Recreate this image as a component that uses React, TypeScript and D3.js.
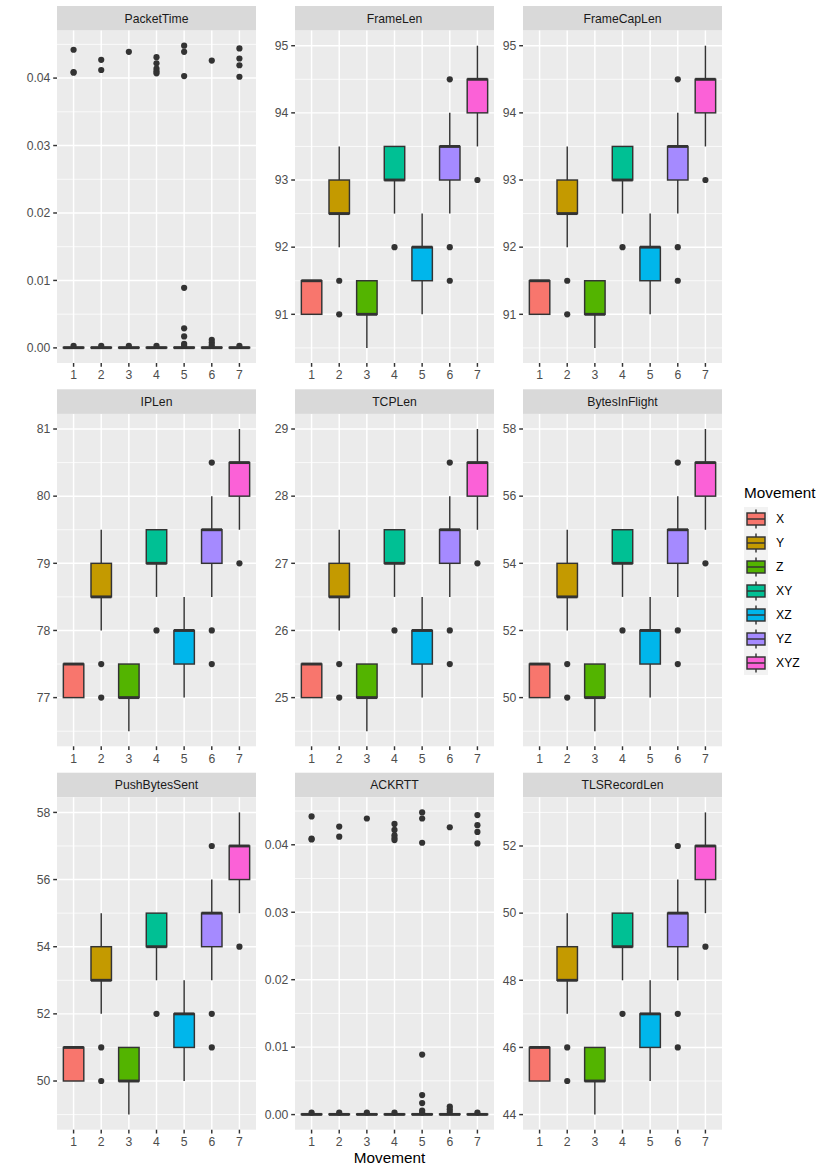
import * as React from "react";
import * as d3 from "d3";

const xLevels = ["1", "2", "3", "4", "5", "6", "7"];
const movements = ["X", "Y", "Z", "XY", "XZ", "YZ", "XYZ"];
const movementColors = ["#F8766D", "#C49A00", "#53B400", "#00C094", "#00B6EB", "#A58AFF", "#FB61D7"];

// each box: [lower whisker, q1, median, q3, upper whisker]
const packetTimeBoxes = [
  [0, 0, 0.00003, 0.00008, 0.0002],
  [0, 0, 0.00003, 0.00008, 0.0002],
  [0, 0, 0.00003, 0.00008, 0.0002],
  [0, 0, 0.00003, 0.00008, 0.0002],
  [0, 0, 0.00003, 0.00009, 0.0002],
  [0, 0, 0.00003, 0.00009, 0.0002],
  [0, 0, 0.00003, 0.00008, 0.0002]
];
const packetTimeOutliers = [
  [0.0442, 0.0409, 0.0408, 0.0003],
  [0.0427, 0.0412, 0.0003],
  [0.0439, 0.0003],
  [0.0431, 0.0422, 0.0414, 0.041, 0.0407, 0.0003],
  [0.0448, 0.0439, 0.0403, 0.0089, 0.0029, 0.0017, 0.0006, 0.0003],
  [0.0426, 0.0012, 0.0008, 0.0004],
  [0.0444, 0.0429, 0.0419, 0.0402, 0.0003]
];

const frameLenBoxes = [
  [91, 91, 91.5, 91.5, 91.5],
  [92, 92.5, 92.5, 93, 93.5],
  [90.5, 91, 91, 91.5, 91.5],
  [92.5, 93, 93, 93.5, 93.5],
  [91, 91.5, 92, 92, 92.5],
  [92.5, 93, 93.5, 93.5, 94],
  [93.5, 94, 94.5, 94.5, 95]
];
const frameLenOutliers = [[], [91.5, 91], [], [92], [], [94.5, 92, 91.5], [93]];

const frameCapLenBoxes = [
  [91, 91, 91.5, 91.5, 91.5],
  [92, 92.5, 92.5, 93, 93.5],
  [90.5, 91, 91, 91.5, 91.5],
  [92.5, 93, 93, 93.5, 93.5],
  [91, 91.5, 92, 92, 92.5],
  [92.5, 93, 93.5, 93.5, 94],
  [93.5, 94, 94.5, 94.5, 95]
];
const frameCapLenOutliers = [[], [91.5, 91], [], [92], [], [94.5, 92, 91.5], [93]];

const ipLenBoxes = [
  [77, 77, 77.5, 77.5, 77.5],
  [78, 78.5, 78.5, 79, 79.5],
  [76.5, 77, 77, 77.5, 77.5],
  [78.5, 79, 79, 79.5, 79.5],
  [77, 77.5, 78, 78, 78.5],
  [78.5, 79, 79.5, 79.5, 80],
  [79.5, 80, 80.5, 80.5, 81]
];
const ipLenOutliers = [[], [77.5, 77], [], [78], [], [80.5, 78, 77.5], [79]];

const tcpLenBoxes = [
  [25, 25, 25.5, 25.5, 25.5],
  [26, 26.5, 26.5, 27, 27.5],
  [24.5, 25, 25, 25.5, 25.5],
  [26.5, 27, 27, 27.5, 27.5],
  [25, 25.5, 26, 26, 26.5],
  [26.5, 27, 27.5, 27.5, 28],
  [27.5, 28, 28.5, 28.5, 29]
];
const tcpLenOutliers = [[], [25.5, 25], [], [26], [], [28.5, 26, 25.5], [27]];

const bytesInFlightBoxes = [
  [50, 50, 51, 51, 51],
  [52, 53, 53, 54, 55],
  [49, 50, 50, 51, 51],
  [53, 54, 54, 55, 55],
  [50, 51, 52, 52, 53],
  [53, 54, 55, 55, 56],
  [55, 56, 57, 57, 58]
];
const bytesInFlightOutliers = [[], [51, 50], [], [52], [], [57, 52, 51], [54]];

const pushBytesSentBoxes = [
  [50, 50, 51, 51, 51],
  [52, 53, 53, 54, 55],
  [49, 50, 50, 51, 51],
  [53, 54, 54, 55, 55],
  [50, 51, 52, 52, 53],
  [53, 54, 55, 55, 56],
  [55, 56, 57, 57, 58]
];
const pushBytesSentOutliers = [[], [51, 50], [], [52], [], [57, 52, 51], [54]];

const ackRttBoxes = [
  [0, 0, 0.00003, 0.00008, 0.0002],
  [0, 0, 0.00003, 0.00008, 0.0002],
  [0, 0, 0.00003, 0.00008, 0.0002],
  [0, 0, 0.00003, 0.00008, 0.0002],
  [0, 0, 0.00003, 0.00009, 0.0002],
  [0, 0, 0.00003, 0.00009, 0.0002],
  [0, 0, 0.00003, 0.00008, 0.0002]
];
const ackRttOutliers = [
  [0.0442, 0.0409, 0.0408, 0.0003],
  [0.0427, 0.0412, 0.0003],
  [0.0439, 0.0003],
  [0.0431, 0.0422, 0.0414, 0.041, 0.0407, 0.0003],
  [0.0448, 0.0439, 0.0403, 0.0089, 0.0029, 0.0017, 0.0006, 0.0003],
  [0.0426, 0.0012, 0.0008, 0.0004],
  [0.0444, 0.0429, 0.0419, 0.0402, 0.0003]
];

const tlsRecordLenBoxes = [
  [45, 45, 46, 46, 46],
  [47, 48, 48, 49, 50],
  [44, 45, 45, 46, 46],
  [48, 49, 49, 50, 50],
  [45, 46, 47, 47, 48],
  [48, 49, 50, 50, 51],
  [50, 51, 52, 52, 53]
];
const tlsRecordLenOutliers = [[], [46, 45], [], [47], [], [52, 47, 46], [49]];

const facets = [
  { name: "PacketTime", boxes: packetTimeBoxes, outliers: packetTimeOutliers },
  { name: "FrameLen", boxes: frameLenBoxes, outliers: frameLenOutliers },
  { name: "FrameCapLen", boxes: frameCapLenBoxes, outliers: frameCapLenOutliers },
  { name: "IPLen", boxes: ipLenBoxes, outliers: ipLenOutliers },
  { name: "TCPLen", boxes: tcpLenBoxes, outliers: tcpLenOutliers },
  { name: "BytesInFlight", boxes: bytesInFlightBoxes, outliers: bytesInFlightOutliers },
  { name: "PushBytesSent", boxes: pushBytesSentBoxes, outliers: pushBytesSentOutliers },
  { name: "ACKRTT", boxes: ackRttBoxes, outliers: ackRttOutliers },
  { name: "TLSRecordLen", boxes: tlsRecordLenBoxes, outliers: tlsRecordLenOutliers }
];

const FONT = "'Liberation Sans', Arial, Helvetica, sans-serif";
const colLefts = [57, 295, 523];
const rowTops = [6, 389.3, 772.7];
const panelW = 199;
const stripH = 24.6;
const panelH = 332.4;
const lineCol = "#333333";

type PanelProps = {
  name: string;
  boxes: number[][];
  outliers: number[][];
  left: number;
  top: number;
};

const Panel = ({ name, boxes, outliers, left, top }: PanelProps) => {
  const pTop = top + stripH;
  const pBottom = pTop + panelH;
  const all = boxes.flat().concat(outliers.flat());
  const [lo, hi] = d3.extent(all) as [number, number];
  const pad = (hi - lo) * 0.05;
  const y = d3.scaleLinear().domain([lo - pad, hi + pad]).range([pBottom, pTop]);
  const x = d3.scalePoint().domain(xLevels).range([left, left + panelW]).padding(0.6);
  const bw = x.step() * 0.74;

  const ticks = y.ticks(5);
  const step = ticks[1] - ticks[0];
  const fmt = d3.format(`.${d3.precisionFixed(step)}f`);
  const [d0, d1] = y.domain();
  const minor = [ticks[0] - step / 2, ...ticks.map(t => t + step / 2)].filter(v => v >= d0 && v <= d1);

  return (
    <g>
      <rect x={left} y={top} width={panelW} height={stripH} fill="#D9D9D9" />
      <text x={left + panelW / 2} y={top + stripH / 2} dy="0.36em" textAnchor="middle" fontSize={12.2} fill="#1A1A1A">
        {name}
      </text>
      <rect x={left} y={pTop} width={panelW} height={panelH} fill="#EBEBEB" />
      {minor.map(v => (
        <line key={"mi" + v} x1={left} x2={left + panelW} y1={y(v)} y2={y(v)} stroke="#fff" strokeWidth={0.75} />
      ))}
      {ticks.map(v => (
        <line key={"ma" + v} x1={left} x2={left + panelW} y1={y(v)} y2={y(v)} stroke="#fff" strokeWidth={1.45} />
      ))}
      {xLevels.map(c => (
        <line key={"xg" + c} x1={x(c)} x2={x(c)} y1={pTop} y2={pBottom} stroke="#fff" strokeWidth={1.45} />
      ))}
      {boxes.map((b, i) => {
        const cx = x(xLevels[i]) as number;
        const [wl, q1, med, q3, wu] = b;
        return (
          <g key={"b" + i}>
            <line x1={cx} x2={cx} y1={y(q3)} y2={y(wu)} stroke={lineCol} strokeWidth={1.45} />
            <line x1={cx} x2={cx} y1={y(q1)} y2={y(wl)} stroke={lineCol} strokeWidth={1.45} />
            <rect
              x={cx - bw / 2}
              y={y(q3)}
              width={bw}
              height={Math.max(0, y(q1) - y(q3))}
              fill={movementColors[i]}
              stroke={lineCol}
              strokeWidth={1.45}
            />
            <line x1={cx - bw / 2} x2={cx + bw / 2} y1={y(med)} y2={y(med)} stroke={lineCol} strokeWidth={2.9} />
            {outliers[i].map((o, j) => (
              <circle key={j} cx={cx} cy={y(o)} r={3.1} fill={lineCol} />
            ))}
          </g>
        );
      })}
      {ticks.map(v => (
        <g key={"yt" + v}>
          <line x1={left - 3.8} x2={left} y1={y(v)} y2={y(v)} stroke={lineCol} strokeWidth={1.45} />
          <text x={left - 6.6} y={y(v)} dy="0.35em" textAnchor="end" fontSize={12.2} fill="#4D4D4D">
            {fmt(v)}
          </text>
        </g>
      ))}
      {xLevels.map(c => (
        <g key={"xt" + c}>
          <line x1={x(c)} x2={x(c)} y1={pBottom} y2={pBottom + 3.8} stroke={lineCol} strokeWidth={1.45} />
          <text x={x(c)} y={pBottom + 16.2} textAnchor="middle" fontSize={12.2} fill="#4D4D4D">
            {c}
          </text>
        </g>
      ))}
    </g>
  );
};

const LegendKey = ({ color, top, left }: { color: string; top: number; left: number }) => {
  const s = 24;
  const cx = left + s / 2;
  return (
    <g>
      <rect x={left} y={top} width={s} height={s} fill="#F2F2F2" />
      <line x1={cx} x2={cx} y1={top + s * 0.1} y2={top + s * 0.25} stroke={lineCol} strokeWidth={1.45} />
      <line x1={cx} x2={cx} y1={top + s * 0.75} y2={top + s * 0.9} stroke={lineCol} strokeWidth={1.45} />
      <rect x={left + s * 0.125} y={top + s * 0.25} width={s * 0.75} height={s * 0.5} fill={color} stroke={lineCol} strokeWidth={1.45} />
      <line x1={left + s * 0.125} x2={left + s * 0.875} y1={top + s / 2} y2={top + s / 2} stroke={lineCol} strokeWidth={1.45} />
    </g>
  );
};

export default function App() {
  const legendLeft = 744;
  const legendTop = 507;
  return (
    <svg
      width={830}
      height={1174}
      style={{ position: "absolute", left: 0, top: 0, background: "#fff" }}
      fontFamily={FONT}
    >
      <rect width={830} height={1174} fill="#fff" />
      {facets.map((f, i) => (
        <Panel
          key={f.name}
          name={f.name}
          boxes={f.boxes}
          outliers={f.outliers}
          left={colLefts[i % 3]}
          top={rowTops[Math.floor(i / 3)]}
        />
      ))}
      <text x={(colLefts[0] + colLefts[2] + panelW) / 2} y={1163} textAnchor="middle" fontSize={15.3} fill="#000">
        Movement
      </text>
      <text x={legendLeft} y={498} fontSize={15.3} fill="#000">
        Movement
      </text>
      {movements.map((m, i) => (
        <g key={m}>
          <LegendKey color={movementColors[i]} top={legendTop + i * 24} left={legendLeft} />
          <text x={legendLeft + 32} y={legendTop + i * 24 + 12} dy="0.36em" fontSize={12.2} fill="#000">
            {m}
          </text>
        </g>
      ))}
    </svg>
  );
}
